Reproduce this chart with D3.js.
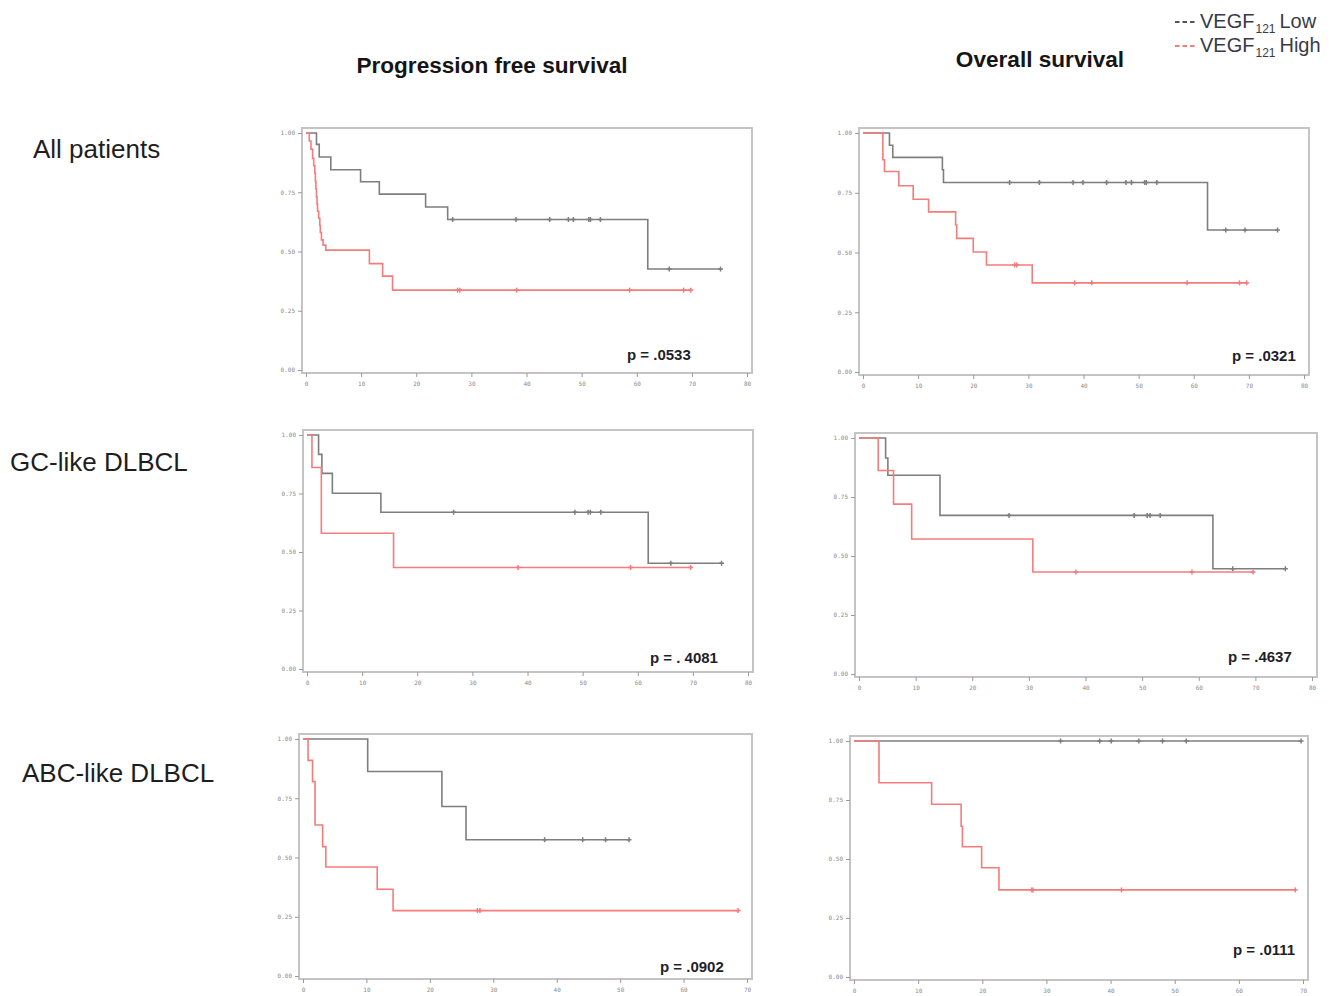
<!DOCTYPE html>
<html>
<head>
<meta charset="utf-8">
<script src="https://cdn.jsdelivr.net/npm/d3@7"></script>
<style>
  html, body { margin: 0; padding: 0; background: #ffffff; }
  svg { display: block; }
</style>
</head>
<body>
<svg id="chart" width="1339" height="996"></svg>
<script>
// ---------------- DATA ----------------
const columnTitles = ["Progression free survival", "Overall survival"];
const rowLabels = ["All patients", "GC-like DLBCL", "ABC-like DLBCL"];
const seriesNames = ["VEGF", "VEGF"];
const seriesSub = ["121", "121"];
const seriesLevel = ["Low", "High"];
const yTickLabels = ["0.00", "0.25", "0.50", "0.75", "1.00"];
const yTickValues = [0, 0.25, 0.5, 0.75, 1];
const xTicks80 = [0, 10, 20, 30, 40, 50, 60, 70, 80];
const xTicks70 = [0, 10, 20, 30, 40, 50, 60, 70];
const pValues = ["p = .0533", "p = .0321", "p = . 4081", "p = .4637", "p = .0902", "p = .0111"];

// Kaplan-Meier steps: [time (months), survival after that time]; censor times
const pfsAllLowSteps = [[0,1],[1.9,0.952],[2.4,0.899],[4.5,0.845],[9.9,0.794],[13.3,0.742],[21.7,0.688],[25.7,0.635],[62.0,0.426]];
const pfsAllLowCensor = [26.6,38.1,44.2,47.6,48.5,51.3,51.6,53.4,65.9,75.2];
const pfsAllHighSteps = [[0,1],[0.6,0.966],[0.9,0.932],[1.2,0.893],[1.4,0.862],[1.6,0.83],[1.7,0.797],[1.8,0.765],[1.9,0.731],[2.0,0.70],[2.1,0.67],[2.3,0.64],[2.5,0.61],[2.6,0.58],[2.8,0.549],[3.1,0.527],[3.6,0.506],[11.5,0.449],[13.9,0.396],[15.7,0.337]];
const pfsAllHighCensor = [27.5,27.9,38.2,58.7,68.5,69.8];

const osAllLowSteps = [[0,1],[4.8,0.949],[5.4,0.898],[14.4,0.846],[14.6,0.793],[62.5,0.594]];
const osAllLowCensor = [26.6,32.0,38.1,39.9,44.2,47.7,48.7,51.1,51.4,53.3,65.8,69.3,75.2];
const osAllHighSteps = [[0,1],[3.6,0.888],[3.9,0.839],[6.5,0.779],[9.1,0.723],[11.9,0.670],[16.8,0.615],[17.0,0.559],[20.0,0.502],[22.4,0.448],[30.7,0.373]];
const osAllHighCensor = [27.5,27.9,38.4,41.5,58.8,68.3,69.6];

const pfsGcLowSteps = [[0,1],[2.1,0.917],[2.7,0.836],[4.6,0.751],[13.4,0.670],[61.9,0.452]];
const pfsGcLowCensor = [26.6,48.6,51.0,51.4,53.3,66.0,75.2];
const pfsGcHighSteps = [[0,1],[0.9,0.861],[2.6,0.580],[15.7,0.434]];
const pfsGcHighCensor = [38.3,58.7,69.6];

const osGcLowSteps = [[0,1],[4.7,0.915],[5.1,0.842],[14.3,0.672],[62.5,0.446]];
const osGcLowCensor = [26.5,48.6,50.9,51.4,53.2,66.0,75.3];
const osGcHighSteps = [[0,1],[3.4,0.862],[6.1,0.720],[9.3,0.572],[30.7,0.432]];
const osGcHighCensor = [38.3,58.8,69.6];

const pfsAbcLowSteps = [[0,1],[10.2,0.863],[21.9,0.715],[25.7,0.575]];
const pfsAbcLowCensor = [38.1,44.1,47.7,51.4];
const pfsAbcHighSteps = [[0,1],[0.8,0.910],[1.5,0.820],[1.9,0.637],[3.1,0.546],[3.6,0.460],[11.7,0.366],[14.2,0.276]];
const pfsAbcHighCensor = [27.5,27.9,68.6];

const osAbcLowSteps = [[0,1]];
const osAbcLowCensor = [32.2,38.3,40.1,44.4,48.1,51.8,69.7];
const osAbcHighSteps = [[0,1],[3.9,0.823],[12.1,0.732],[16.7,0.639],[16.9,0.552],[19.9,0.463],[22.6,0.369]];
const osAbcHighCensor = [27.7,27.9,41.7,68.8];

// ---------------- LAYOUT (positions / styles) ----------------
const panels = [
  { xr:[306,747], yr:[370,133], xmax:80, ticks:xTicks80, p:[627,360], low:[pfsAllLowSteps,pfsAllLowCensor], high:[pfsAllHighSteps,pfsAllHighCensor] },
  { xr:[863,1304], yr:[372,133], xmax:80, ticks:xTicks80, p:[1232,361], low:[osAllLowSteps,osAllLowCensor], high:[osAllHighSteps,osAllHighCensor] },
  { xr:[307,748], yr:[669,435], xmax:80, ticks:xTicks80, p:[650,663], low:[pfsGcLowSteps,pfsGcLowCensor], high:[pfsGcHighSteps,pfsGcHighCensor] },
  { xr:[859,1312], yr:[674,438], xmax:80, ticks:xTicks80, p:[1228,662], low:[osGcLowSteps,osGcLowCensor], high:[osGcHighSteps,osGcHighCensor] },
  { xr:[303,747], yr:[976,739], xmax:70, ticks:xTicks70, p:[660,972], low:[pfsAbcLowSteps,pfsAbcLowCensor], high:[pfsAbcHighSteps,pfsAbcHighCensor] },
  { xr:[854,1303], yr:[977,741], xmax:70, ticks:xTicks70, p:[1233,955], low:[osAbcLowSteps,osAbcLowCensor], high:[osAbcHighSteps,osAbcHighCensor] }
];
const colLow = "#7e7e7e";
const colHigh = "#f47c7c";
const frameCol = "#c4c4c4";

const svg = d3.select("#chart");

// Column titles
const titlePos = [[492,73],[1040,67]];
columnTitles.forEach((t,i) => {
  svg.append("text").attr("x", titlePos[i][0]).attr("y", titlePos[i][1])
    .attr("text-anchor","middle").attr("font-family","Liberation Sans, Arial, sans-serif")
    .attr("font-weight","bold").attr("font-size",22.6).attr("fill","#151515").text(t);
});

// Row labels
const rowPos = [[33,158],[10,471],[22,782]];
rowLabels.forEach((t,i) => {
  svg.append("text").attr("x", rowPos[i][0]).attr("y", rowPos[i][1])
    .attr("font-family","Liberation Sans, Arial, sans-serif")
    .attr("font-size",26).attr("fill","#1e1e1e").text(t);
});

// Legend
const legendPos = [[1175,28],[1175,52]];
[0,1].forEach(i => {
  const g = svg.append("g");
  const lx = legendPos[i][0], ly = legendPos[i][1];
  g.append("line").attr("x1", lx).attr("x2", lx + 20).attr("y1", ly - 6).attr("y2", ly - 6)
    .attr("stroke", i === 0 ? "#555" : colHigh).attr("stroke-width", 2)
    .attr("stroke-dasharray", "4.5,3");
  const t = g.append("text").attr("x", lx + 25).attr("y", ly)
    .attr("font-family","Liberation Sans, Arial, sans-serif").attr("font-size",20).attr("fill","#3a3a46");
  t.append("tspan").text(seriesNames[i]);
  t.append("tspan").attr("font-size",12).attr("dy",5).attr("dx",1).text(seriesSub[i]);
  t.append("tspan").attr("dy",-5).attr("dx",4).text(seriesLevel[i]);
});

function survAt(steps, t) {
  let s = 1;
  for (const [tt, ss] of steps) { if (tt <= t) s = ss; }
  return s;
}

panels.forEach((P, idx) => {
  const x = d3.scaleLinear().domain([0, P.xmax]).range(P.xr);
  const y = d3.scaleLinear().domain([0, 1]).range(P.yr);
  const g = svg.append("g");

  // frame
  const fx0 = P.xr[0]-4, fx1 = P.xr[1]+5, fy0 = P.yr[1]-5, fy1 = P.yr[0]+3;
  g.append("rect").attr("x",fx0).attr("y",fy0).attr("width",fx1-fx0).attr("height",fy1-fy0)
    .attr("fill","none").attr("stroke",frameCol).attr("stroke-width",2);

  // y axis
  const yAxis = d3.axisLeft(y).tickValues(yTickValues)
    .tickFormat((d,i) => yTickLabels[i]).tickSize(4).tickPadding(3);
  const ya = g.append("g").attr("transform",`translate(${fx0},0)`).call(yAxis);
  ya.select(".domain").remove();
  ya.selectAll(".tick line").attr("stroke","#9a9a9a");
  ya.selectAll(".tick text").attr("font-size",6).attr("fill","#8a8a8a")
    .attr("font-family","DejaVu Sans Mono, monospace");

  // x axis
  const xAxis = d3.axisBottom(x).tickValues(P.ticks).tickSize(4).tickPadding(5);
  const xa = g.append("g").attr("transform",`translate(0,${fy1})`).call(xAxis);
  xa.select(".domain").remove();
  xa.selectAll(".tick line").attr("stroke","#9a9a9a");
  xa.selectAll(".tick text").attr("font-size",6).attr("fill","#8a8a8a")
    .attr("font-family","DejaVu Sans Mono, monospace");

  const line = d3.line().x(d => x(d[0])).y(d => y(d[1])).curve(d3.curveStepAfter);

  [[P.low, colLow], [P.high, colHigh]].forEach(([ser, col]) => {
    const steps = ser[0], cens = ser[1];
    const tEnd = Math.max(steps[steps.length-1][0], d3.max(cens) || 0);
    const pts = steps.concat([[tEnd, steps[steps.length-1][1]]]);
    g.append("path").datum(pts).attr("d", line).attr("fill","none")
      .attr("stroke", col).attr("stroke-width", 1.6);
    const cg = g.append("g").attr("stroke", col).attr("stroke-width", 1.5);
    cens.forEach(c => {
      const cx = x(c), cy = y(survAt(steps, c));
      cg.append("line").attr("x1",cx).attr("x2",cx).attr("y1",cy-2.5).attr("y2",cy+2.5);
      cg.append("line").attr("x1",cx-2.5).attr("x2",cx+2.5).attr("y1",cy).attr("y2",cy);
    });
  });

  // p value
  g.append("text").attr("x",P.p[0]).attr("y",P.p[1])
    .attr("font-family","Liberation Sans, Arial, sans-serif").attr("font-weight","bold")
    .attr("font-size",15).attr("fill","#1f1f2a").text(pValues[idx]);
});
</script>
</body>
</html>
